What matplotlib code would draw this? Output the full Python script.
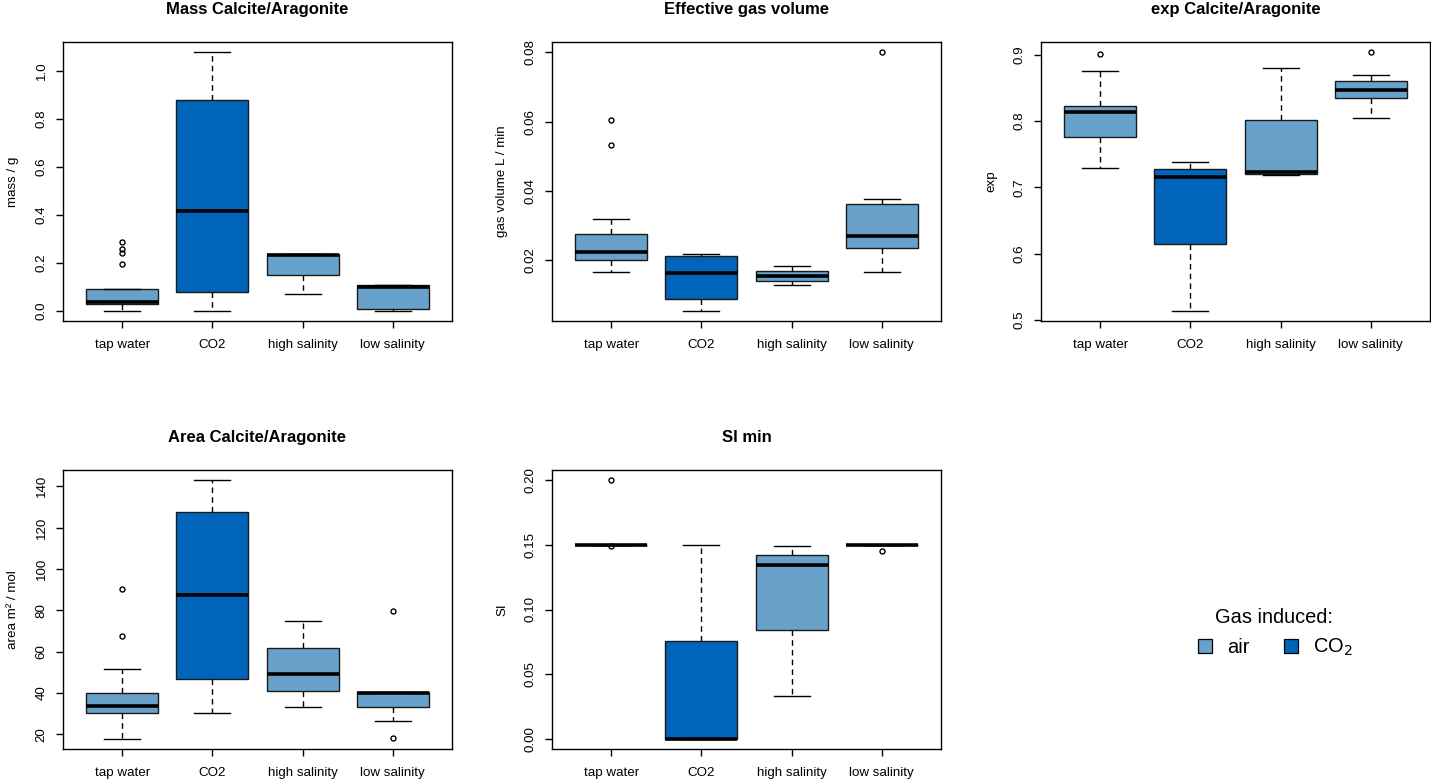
import matplotlib
matplotlib.use("Agg")
import matplotlib.pyplot as plt
from matplotlib.lines import Line2D

plt.rcParams['font.family'] = ['Liberation Sans', 'DejaVu Sans']

groups = ['tap water', 'CO2', 'high salinity', 'low salinity']
air_col = '#68A2CA'
co2_col = '#0064BA'
box_cols = [air_col, co2_col, air_col, air_col]

# box stats per panel: q1, median, q3, lower whisker, upper whisker, outliers
mass_q1 = [0.028, 0.079, 0.148, 0.006]
mass_med = [0.037, 0.415, 0.230, 0.100]
mass_q3 = [0.090, 0.877, 0.234, 0.105]
mass_lo = [0.0, 0.0, 0.069, 0.0]
mass_hi = [0.090, 1.076, 0.234, 0.105]
mass_out = [[0.285, 0.255, 0.240, 0.195], [], [], []]

gas_q1 = [0.0200, 0.0088, 0.0139, 0.0236]
gas_med = [0.0223, 0.0164, 0.0153, 0.0271]
gas_q3 = [0.0274, 0.0212, 0.0169, 0.0362]
gas_lo = [0.0166, 0.0054, 0.0127, 0.0166]
gas_hi = [0.0319, 0.0218, 0.0183, 0.0377]
gas_out = [[0.0606, 0.0531], [], [], [0.0800]]

exp_q1 = [0.776, 0.614, 0.720, 0.834]
exp_med = [0.813, 0.716, 0.7225, 0.846]
exp_q3 = [0.822, 0.727, 0.801, 0.861]
exp_lo = [0.729, 0.514, 0.7185, 0.804]
exp_hi = [0.876, 0.738, 0.880, 0.869]
exp_out = [[0.9005], [], [], [0.9035]]

area_q1 = [30.2, 46.7, 41.0, 33.2]
area_med = [33.7, 87.5, 49.1, 39.9]
area_q3 = [40.0, 127.4, 61.8, 40.4]
area_lo = [17.9, 30.2, 33.1, 26.6]
area_hi = [51.5, 142.9, 74.8, 40.4]
area_out = [[90.1, 67.5], [], [], [79.6, 18.2]]

si_q1 = [0.15, 0.0, 0.0838, 0.15]
si_med = [0.15, 0.0, 0.1348, 0.15]
si_q3 = [0.15, 0.0753, 0.1423, 0.15]
si_lo = [0.15, 0.0, 0.0332, 0.15]
si_hi = [0.15, 0.15, 0.1495, 0.15]
si_out = [[0.20, 0.149], [], [], [0.1456]]

panels = [
    ('Mass Calcite/Aragonite', 'mass / g', mass_q1, mass_med, mass_q3, mass_lo, mass_hi, mass_out,
     [0.0, 0.2, 0.4, 0.6, 0.8, 1.0], '{:.1f}'),
    ('Effective gas volume', 'gas volume L / min', gas_q1, gas_med, gas_q3, gas_lo, gas_hi, gas_out,
     [0.02, 0.04, 0.06, 0.08], '{:.2f}'),
    ('exp Calcite/Aragonite', 'exp', exp_q1, exp_med, exp_q3, exp_lo, exp_hi, exp_out,
     [0.5, 0.6, 0.7, 0.8, 0.9], '{:.1f}'),
    ('Area Calcite/Aragonite', 'area m² / mol', area_q1, area_med, area_q3, area_lo, area_hi, area_out,
     [20, 40, 60, 80, 100, 120, 140], '{:.0f}'),
    ('SI min', 'SI', si_q1, si_med, si_q3, si_lo, si_hi, si_out,
     [0.0, 0.05, 0.10, 0.15, 0.20], '{:.2f}'),
]

W, H = 1431, 782
fig = plt.figure(figsize=(W / 100, H / 100), dpi=100)
lefts = [63, 552, 1041]
tops = [42, 470]
aw, ah = 389, 279
pos = [(lefts[0], tops[0]), (lefts[1], tops[0]), (lefts[2], tops[0]),
       (lefts[0], tops[1]), (lefts[1], tops[1])]

fs = 9.6
for (title, ylab, q1, med, q3, lo, hi, out, yt, fmt), (x0, y0) in zip(panels, pos):
    ax = fig.add_axes([x0 / W, 1 - (y0 + ah) / H, aw / W, ah / H])
    stats = []
    for i in range(4):
        stats.append(dict(q1=q1[i], med=med[i], q3=q3[i], whislo=lo[i], whishi=hi[i],
                          fliers=out[i], label=groups[i]))
    res = ax.bxp(stats, positions=[1, 2, 3, 4], widths=0.8, capwidths=0.4,
                 patch_artist=True, showfliers=True,
                 boxprops=dict(edgecolor='#1a1a1a', linewidth=1.0),
                 medianprops=dict(color='black', linewidth=2.6, solid_capstyle='butt'),
                 whiskerprops=dict(color='black', linewidth=1.0, linestyle=(0, (4, 3))),
                 capprops=dict(color='black', linewidth=1.0),
                 flierprops=dict(marker='o', markersize=3.6, markerfacecolor='none',
                                 markeredgecolor='black', markeredgewidth=1.0))
    for patch, c in zip(res['boxes'], box_cols):
        patch.set_facecolor(c)
    allv = lo + hi + sum(out, [])
    vmin, vmax = min(allv), max(allv)
    ext = (vmax - vmin) * 0.04
    ax.set_ylim(vmin - ext, vmax + ext)
    ax.set_xlim(0.5 - 0.16, 4.5 + 0.16)
    ax.set_yticks(yt)
    ax.set_yticklabels([fmt.format(v) for v in yt], rotation=90, va='center')
    ax.tick_params(axis='both', labelsize=fs, length=5, width=1.0, pad=6)
    ax.tick_params(axis='x', pad=8)
    ax.set_title(title, fontsize=12, fontweight='bold', pad=20)
    ax.set_ylabel(ylab, fontsize=fs, labelpad=12)
    for s in ax.spines.values():
        s.set_linewidth(1.0)

handles = [Line2D([], [], marker='s', ls='', markersize=9.5, markerfacecolor=air_col,
                  markeredgecolor='black', markeredgewidth=0.9),
           Line2D([], [], marker='s', ls='', markersize=9.5, markerfacecolor=co2_col,
                  markeredgecolor='black', markeredgewidth=0.9)]
leg = fig.legend(handles, ['air', 'CO$_2$'], title='Gas induced:', ncol=2, frameon=False,
                 fontsize=14.4, title_fontsize=14.4, loc='center',
                 bbox_to_anchor=(1274 / W, 1 - 633 / H), handletextpad=0.6,
                 columnspacing=1.6, handlelength=1.0)

fig.savefig('out.png', dpi=100)
